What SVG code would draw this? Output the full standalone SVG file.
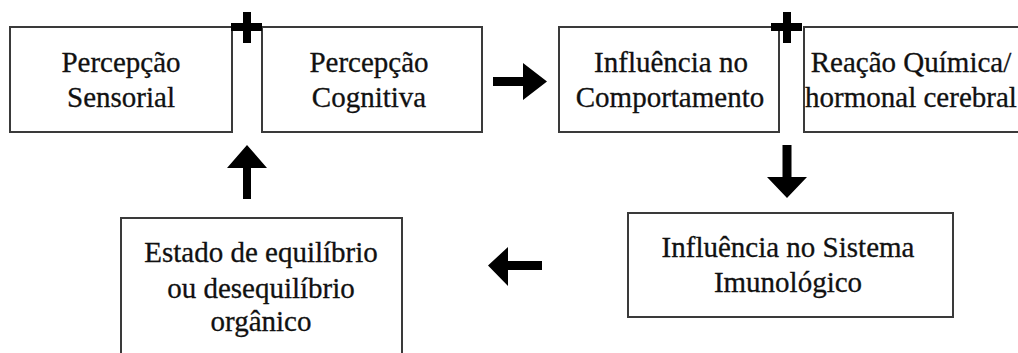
<svg xmlns="http://www.w3.org/2000/svg" width="1018" height="353" viewBox="0 0 1018 353">
<style>
.box{fill:#fff;stroke:#3a3a3a;stroke-width:2}
.t{font-family:"Liberation Serif","Times New Roman",serif;font-size:29px;fill:#111;stroke:#111;stroke-width:0.3;text-anchor:middle}
.sym{fill:#000}
</style>
<rect width="1018" height="353" fill="#fff"/>
<g id="n1"><rect class="box" x="10" y="27" width="222" height="105"/>
<text class="t" x="121" y="72">Percepção</text><text class="t" x="121" y="107">Sensorial</text></g>
<g id="n2"><rect class="box" x="262" y="27" width="220" height="105"/>
<text class="t" x="369" y="72">Percepção</text><text class="t" x="369" y="107">Cognitiva</text></g>
<g id="n3"><rect class="box" x="559" y="27" width="220" height="105"/>
<text class="t" x="671" y="72">Influência no</text><text class="t" x="670" y="107">Comportamento</text></g>
<g id="n4"><rect class="box" x="804" y="27" width="230" height="105"/>
<text class="t" x="911" y="72">Reação Química/</text><text class="t" x="911" y="107">hormonal cerebral</text></g>
<g id="n5"><rect class="box" x="628" y="213" width="325" height="104"/>
<text class="t" x="788" y="257">Influência no Sistema</text><text class="t" x="788" y="292">Imunológico</text></g>
<g id="n6"><rect class="box" x="121" y="218" width="281" height="150"/>
<text class="t" x="261" y="262">Estado de equilíbrio</text><text class="t" x="261" y="298">ou desequilíbrio</text><text class="t" x="261" y="331">orgânico</text></g>
<g id="connectors">
<g class="sym">
<rect x="231" y="23" width="31" height="8"/><rect x="243" y="12" width="8" height="31"/>
<rect x="771" y="23" width="31" height="8"/><rect x="783" y="12" width="8" height="31"/>
</g>
<polygon class="sym" points="493,77 523,77 523,63 547,81.5 523,100 523,86 493,86"/>
<polygon class="sym" points="782.5,145 791.5,145 791.5,177 807,177 787,198 767,177 782.5,177"/>
<polygon class="sym" points="542,261 508,261 508,247 488,265.5 508,286 508,270 542,270"/>
<polygon class="sym" points="243,199 251,199 251,168 267,168 247,145 227,168 243,168"/>
</g>
</svg>
